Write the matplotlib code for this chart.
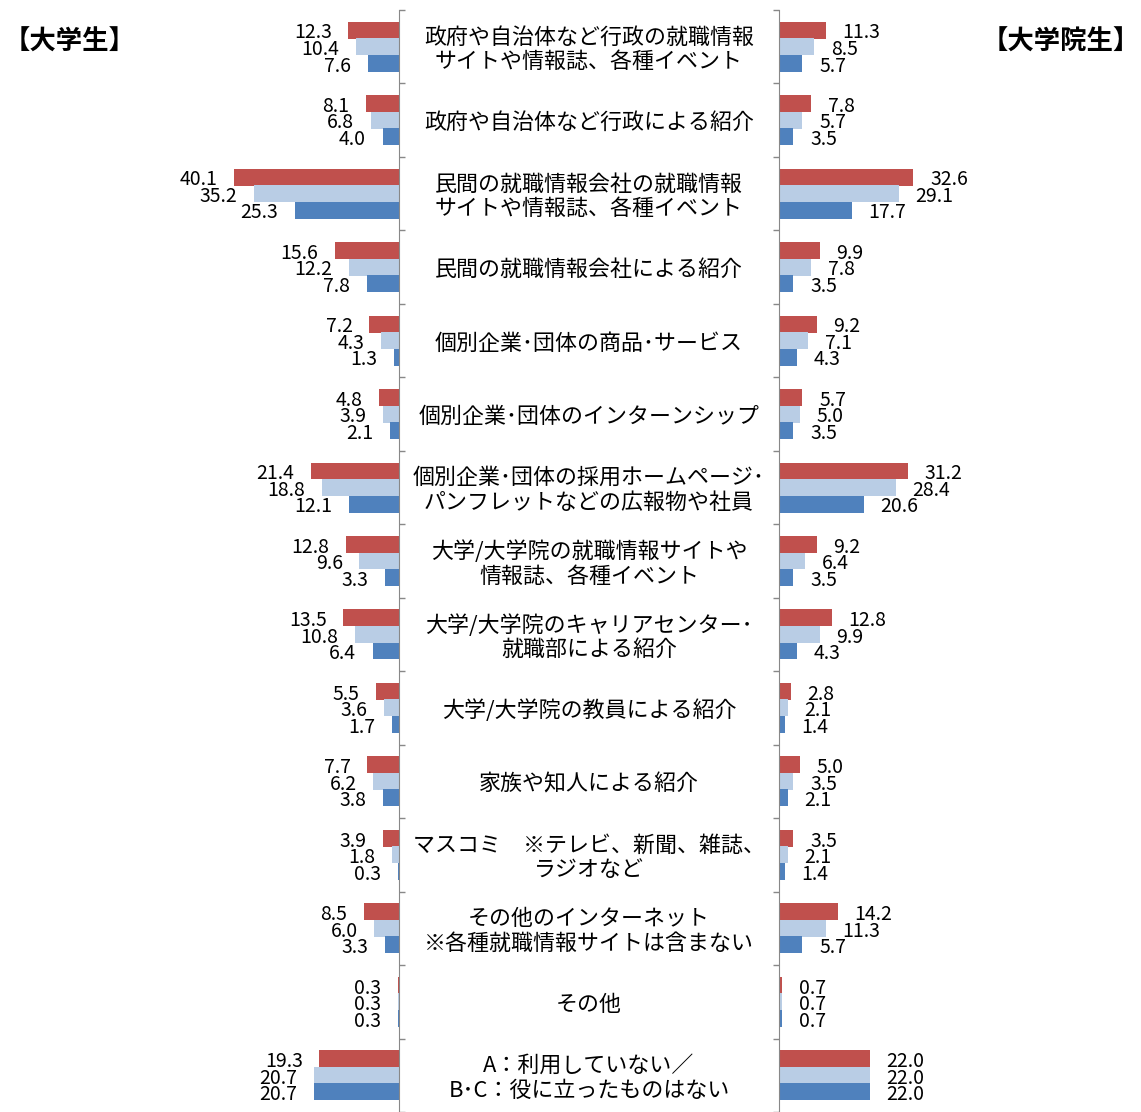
import matplotlib
matplotlib.use('Agg')
import matplotlib.pyplot as plt
import matplotlib.transforms as mtransforms
import numpy as np

plt.rcParams['font.family'] = ['Noto Sans CJK JP', 'DejaVu Sans']

# 設問項目
categories = [
    '政府や自治体など行政の就職情報\nサイトや情報誌、各種イベント',
    '政府や自治体など行政による紹介',
    '民間の就職情報会社の就職情報\nサイトや情報誌、各種イベント',
    '民間の就職情報会社による紹介',
    '個別企業･団体の商品･サービス',
    '個別企業･団体のインターンシップ',
    '個別企業･団体の採用ホームページ･\nパンフレットなどの広報物や社員',
    '大学/大学院の就職情報サイトや\n情報誌、各種イベント',
    '大学/大学院のキャリアセンター･\n就職部による紹介',
    '大学/大学院の教員による紹介',
    '家族や知人による紹介',
    'マスコミ　※テレビ、新聞、雑誌、\nラジオなど',
    'その他のインターネット\n※各種就職情報サイトは含まない',
    'その他',
    'A：利用していない／\nB･C：役に立ったものはない',
]

# 大学生 (red, light blue, dark blue)
ug_red = [12.3, 8.1, 40.1, 15.6, 7.2, 4.8, 21.4, 12.8, 13.5, 5.5, 7.7, 3.9, 8.5, 0.3, 19.3]
ug_light = [10.4, 6.8, 35.2, 12.2, 4.3, 3.9, 18.8, 9.6, 10.8, 3.6, 6.2, 1.8, 6.0, 0.3, 20.7]
ug_dark = [7.6, 4.0, 25.3, 7.8, 1.3, 2.1, 12.1, 3.3, 6.4, 1.7, 3.8, 0.3, 3.3, 0.3, 20.7]

# 大学院生
gr_red = [11.3, 7.8, 32.6, 9.9, 9.2, 5.7, 31.2, 9.2, 12.8, 2.8, 5.0, 3.5, 14.2, 0.7, 22.0]
gr_light = [8.5, 5.7, 29.1, 7.8, 7.1, 5.0, 28.4, 6.4, 9.9, 2.1, 3.5, 2.1, 11.3, 0.7, 22.0]
gr_dark = [5.7, 3.5, 17.7, 3.5, 4.3, 3.5, 20.6, 3.5, 4.3, 1.4, 2.1, 1.4, 5.7, 0.7, 22.0]

colors = ['#C0504D', '#B9CDE5', '#4F81BD']

W, H = 1141, 1112
fig = plt.figure(figsize=(W / 100, H / 100), dpi=100)

px_per_unit = 4.12
top = 1 - 10 / H
ax_l = fig.add_axes([0, 0, 399 / W, top])
ax_r = fig.add_axes([779 / W, 0, (W - 779) / W, top])

n = len(categories)
y = np.arange(n) + 0.5
offsets = [-0.225, 0.0, 0.225]
bar_h = 0.23


def draw_panel(ax, series, side):
    for vals, off, c in zip(series, offsets, colors):
        ax.barh(y + off, vals, height=bar_h, color=c, edgecolor='none')
        for yi, v in zip(y + off, vals):
            if side == 'left':
                ax.annotate(f'{v:.1f}', (v, yi), xytext=(-12, -2), textcoords='offset points',
                            ha='right', va='center', fontsize=14)
            else:
                ax.annotate(f'{v:.1f}', (v, yi), xytext=(12, -2), textcoords='offset points',
                            ha='left', va='center', fontsize=14)
    ax.set_ylim(n, 0)
    ax.set_yticks(np.arange(n + 1))
    ax.set_yticklabels([])
    ax.set_xticks([])
    for s in ax.spines.values():
        s.set_visible(False)
    ax.tick_params(axis='y', length=4, width=1, color='#888888', direction='out')


draw_panel(ax_l, [ug_red, ug_light, ug_dark], 'left')
ax_l.set_xlim(399 / px_per_unit, 0)
ax_l.spines['right'].set_visible(True)
ax_l.spines['right'].set_color('#888888')
ax_l.yaxis.tick_right()

draw_panel(ax_r, [gr_red, gr_light, gr_dark], 'right')
ax_r.set_xlim(0, (W - 779) / px_per_unit)
ax_r.spines['left'].set_visible(True)
ax_r.spines['left'].set_color('#888888')
ax_r.yaxis.tick_left()

# 中央の項目ラベル
trans = mtransforms.blended_transform_factory(fig.transFigure, ax_l.transData)
for yi, lab in zip(y, categories):
    fig.text(589 / W, yi + 0.04, lab, transform=trans, ha='center', va='center',
             fontsize=15.8, linespacing=1.15)

fig.text(4 / W, 1 - 42 / H, '【大学生】', ha='left', va='center', fontsize=19, fontweight='bold')
fig.text(1 - 1 / W, 1 - 42 / H, '【大学院生】', ha='right', va='center', fontsize=19, fontweight='bold')

fig.savefig('out.png', dpi=100)
